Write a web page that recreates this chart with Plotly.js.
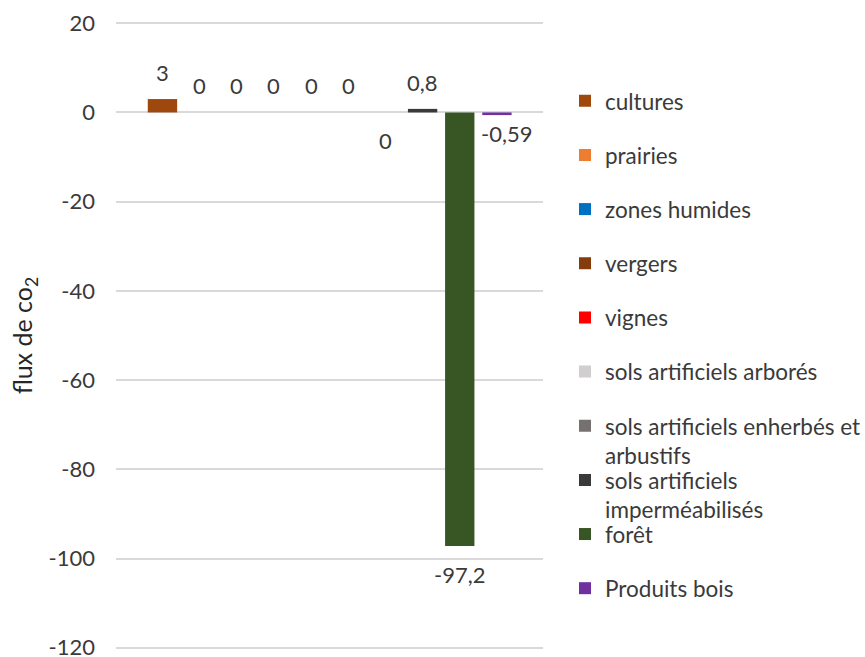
<!DOCTYPE html>
<html>
<head>
<meta charset="utf-8">
<script src="https://cdn.plot.ly/plotly-3.0.1.min.js"></script>
<style>
  html, body { margin: 0; padding: 0; background: #ffffff; }
  #chart { width: 865px; height: 657px; }
</style>
</head>
<body>
<div id="chart"></div>
<script>
// Flux de CO2 par type d'occupation du sol
const categories = [
  'cultures',
  'prairies',
  'zones humides',
  'vergers',
  'vignes',
  'sols artificiels arborés',
  'sols artificiels enherbés et arbustifs',
  'sols artificiels imperméabilisés',
  'forêt',
  'Produits bois'
];
const fluxValues = [3, 0, 0, 0, 0, 0, 0, 0.8, -97.2, -0.59];
const tickValues = [20, 0, -20, -40, -60, -80, -100, -120];
const tickLabels = ['20', '0', '-20', '-40', '-60', '-80', '-100', '-120'];

const barColors = [
  '#9E480E', '#ED7D31', '#0070C0', '#843C0C', '#FF0000',
  '#D0CECE', '#767171', '#3B3838', '#375623', '#7030A0'
];

const FONT = 'Lato, "Open Sans", "Liberation Sans", sans-serif';
const TEXT = '#3a3a3a';

// page geometry (value range padded a little so the end gridlines show)
const W = 865, H = 657;
const M = { l: 116, r: 322, t: 20.8, b: 6.7, autoexpand: false };
const plotH = H - M.t - M.b;
const plotW = W - M.l - M.r;

// French number formatting with decimal comma
const fmt = v => String(v).replace('.', ',');

// wrap long legend names on word boundaries
function wrap(name, maxLen) {
  const words = name.split(' ');
  const lines = [];
  let cur = '';
  words.forEach(w => {
    const next = cur ? cur + ' ' + w : w;
    if (next.length > maxLen && cur) { lines.push(cur); cur = w; }
    else cur = next;
  });
  if (cur) lines.push(cur);
  return lines.join('<br>');
}

// the label of this bar sits under the axis line
const labelsBelow = new Set(['sols artificiels enherbés et arbustifs']);

const traces = categories.map((name, i) => ({
  type: 'bar',
  x: [name],
  y: [fluxValues[i]],
  width: 0.79,
  name: wrap(name, 28),
  marker: { color: barColors[i], line: { width: 0 } },
  legend: i === 0 ? 'legend' : 'legend' + (i + 1),
  hoverinfo: 'skip'
}));

// one legend box per entry, evenly stacked on the right
const legendLeftPx = 565;
const firstRowPx = 100.5;
const rowStepPx = 54.2;
const legends = {};
categories.forEach((name, i) => {
  const key = i === 0 ? 'legend' : 'legend' + (i + 1);
  const topPx = firstRowPx + rowStepPx * i - 21;
  legends[key] = {
    x: (legendLeftPx - M.l) / plotW,
    y: 1 - (topPx - M.t) / plotH,
    xanchor: 'left',
    yanchor: 'top',
    valign: 'top',
    bgcolor: 'rgba(0,0,0,0)',
    borderwidth: 0,
    font: { family: FONT, size: 22.5, color: TEXT },
    itemclick: false,
    itemdoubleclick: false
  };
});

// value labels
const annotations = categories.map((name, i) => {
  const v = fluxValues[i];
  const below = v < 0 || labelsBelow.has(name);
  const ann = {
    x: name,
    y: v,
    xref: 'x',
    yref: 'y',
    text: fmt(v),
    showarrow: false,
    font: { family: FONT, size: 22, color: TEXT },
    xanchor: 'center',
    yanchor: below ? 'top' : 'bottom',
    yshift: below ? -13 : 11
  };
  // the small negative label beside the forest bar is nudged aside
  if (name === 'Produits bois') { ann.xshift = 10; ann.yshift = -3; }
  return ann;
});

const layout = {
  width: W,
  height: H,
  margin: M,
  paper_bgcolor: '#ffffff',
  plot_bgcolor: '#ffffff',
  barmode: 'overlay',
  font: { family: FONT, color: TEXT },
  showlegend: true,
  xaxis: {
    type: 'category',
    range: [-1.25, 10.24],
    showticklabels: false,
    showgrid: false,
    zeroline: false,
    showline: false,
    ticks: ''
  },
  yaxis: {
    range: [-120.5, 20.5],
    tickvals: tickValues,
    ticktext: tickLabels,
    showgrid: true,
    gridcolor: '#d9d9d9',
    gridwidth: 2,
    zeroline: false,
    showline: false,
    ticks: '',
    ticklabelstandoff: 20,
    ticklabeloverflow: 'allow',
    tickfont: { family: FONT, size: 22, color: TEXT },
    title: {
      text: 'flux de co<sub>2</sub>',
      font: { family: FONT, size: 25, color: '#262626' },
      standoff: 8
    }
  },
  annotations: annotations,
  ...legends
};

Plotly.newPlot('chart', traces, layout, { displayModeBar: false, staticPlot: true });
</script>
</body>
</html>
